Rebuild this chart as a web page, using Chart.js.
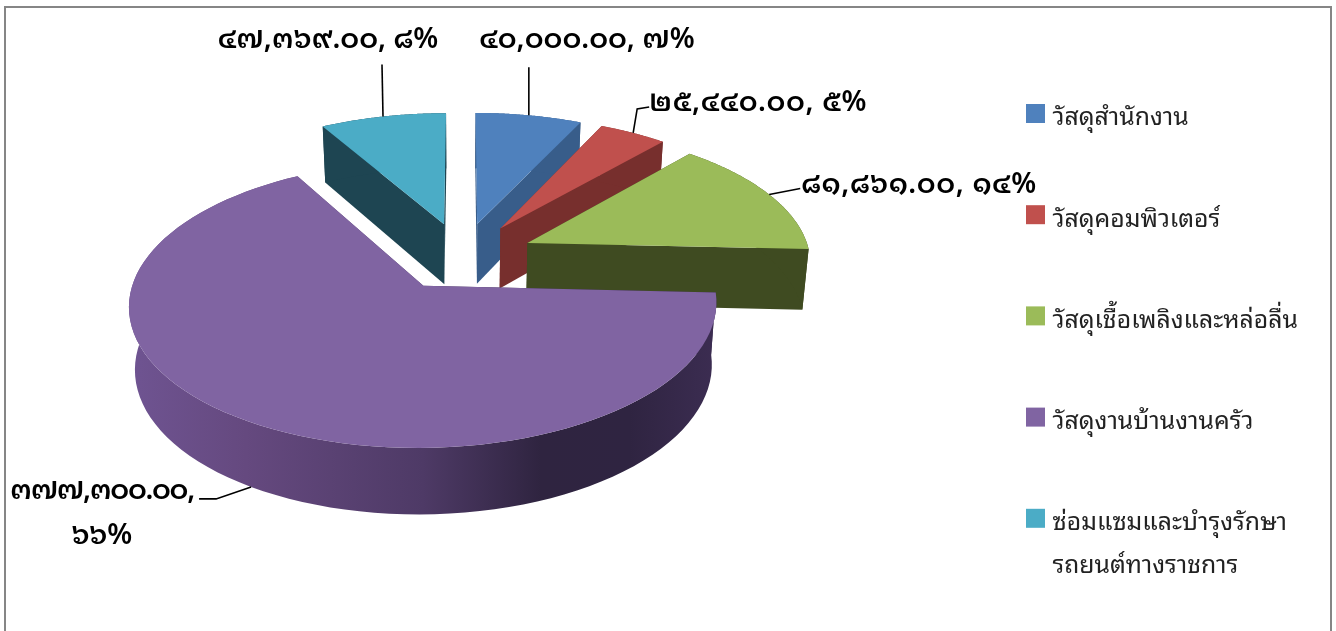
<!DOCTYPE html>
<html><head><meta charset="utf-8">
<script src="https://cdn.jsdelivr.net/npm/chart.js@4"></script>
<style>
html,body{margin:0;padding:0;background:#fff;overflow:hidden;width:1336px;height:631px}
#frame{position:absolute;left:4px;top:6px;width:1324px;height:700px;border:2px solid #868686}
canvas{position:absolute;left:0;top:0;display:block}
</style></head><body>
<div id="frame"></div>
<canvas id="c" width="1336" height="631"></canvas>
<script>
const categories = ['วัสดุสำนักงาน','วัสดุคอมพิวเตอร์','วัสดุเชื้อเพลิงและหล่อลื่น','วัสดุงานบ้านงานครัว',['ซ่อมแซมและบำรุงรักษา','รถยนต์ทางราชการ']];
const values = [40000, 25440, 81861, 377300, 47369];
const percents = [7, 5, 14, 66, 8];
const topColors = ['#4f81bd','#c0504d','#9bbb59','#8064a2','#4bacc6'];
const wallColors = ['#385d8a','#772f2d','#3f4b21',null,'#1e4552'];

const thaiDigits = s => String(s).replace(/\d/g, d => '๐๑๒๓๔๕๖๗๘๙'[+d]);
const money = v => thaiDigits(v.toLocaleString('en-US',{minimumFractionDigits:2,maximumFractionDigits:2}));

const VIEW = {cx:462, cy:256, k:0.47, D:2200, wall:61, taper:0.982};
const THAI_FONT = '"Noto Sans Thai Looped","Noto Sans","Liberation Sans",sans-serif';

function project(px, py, lowered){
  const p = VIEW.D/(VIEW.D - py);
  let X = VIEW.cx + px*p, Y = VIEW.cy + VIEW.k*py*p;
  if(lowered){ X = VIEW.cx + (X-VIEW.cx)*VIEW.taper; Y += VIEW.wall + py*0.016; }
  return [X,Y];
}
function planePoint(el, angle, r){
  const mid = (el.startAngle+el.endAngle)/2;
  const off = el.options.offset;
  return [off*Math.cos(mid)+r*Math.cos(angle), off*Math.sin(mid)+r*Math.sin(angle)];
}
function tracePoly(ctx, pts){
  ctx.beginPath();
  pts.forEach((q,i)=> i?ctx.lineTo(q[0],q[1]):ctx.moveTo(q[0],q[1]));
  ctx.closePath();
}
function drawSlice(ctx, el, i){
  const r = el.outerRadius, n = 90;
  const arc = [];
  for(let s=0;s<=n;s++){
    const a = el.startAngle+(el.endAngle-el.startAngle)*s/n;
    arc.push(planePoint(el,a,r));
  }
  const apex = planePoint(el,0,0);
  const hi = q=>project(q[0],q[1],false), lo = q=>project(q[0],q[1],true);
  let wall = wallColors[i];
  if(!wall){
    const g = ctx.createLinearGradient(128,0,718,0);
    g.addColorStop(0,'#6f5492'); g.addColorStop(0.2,'#65497f');
    g.addColorStop(0.5,'#4e3a66'); g.addColorStop(0.7,'#2f2440'); g.addColorStop(0.85,'#2f2441'); g.addColorStop(1,'#3c2d52');
    wall = g;
  }
  ctx.fillStyle = wall;
  [arc[0],arc[n]].forEach(q=>{ tracePoly(ctx,[hi(apex),hi(q),lo(q),lo(apex)]); ctx.fill(); });
  tracePoly(ctx, arc.map(hi).concat(arc.slice().reverse().map(lo))); ctx.fill();
  ctx.fillStyle = el.options.backgroundColor;
  tracePoly(ctx,[hi(apex)].concat(arc.map(hi))); ctx.fill();
}
const leaders = [
  {via:[[0,-48]], label:[587,40], track:0},
  {via:[[4,-24],[16,-26]], label:[758,102.5], track:0.6},
  {via:[[31,-6]], label:[919,184.5], track:0.6},
  {via:[[-35,12],[-52,12]], label:[102,491], second:[102,536], tail:true, track:-1.3},
  {via:[[-1,-52]], label:[328,40], track:0}
];
const LEGEND = {boxX:1026, boxSize:19, textX:1052.5, firstY:113.5, step:101.2, textDrop:5, lineH:43};
const pie3d = {
  id:'pie3d',
  beforeDatasetsDraw(chart){
    const ctx = chart.ctx, els = chart.getDatasetMeta(0).data;
    ctx.save();
    [4,0,1,2,3].forEach(i=>drawSlice(ctx,els[i],i));
    els.forEach((el,i)=>{
      const mid=(el.startAngle+el.endAngle)/2;
      const q=planePoint(el,mid,el.outerRadius);
      const s=project(q[0],q[1],leaders[i].tail);
      ctx.strokeStyle='#000'; ctx.lineWidth=1.6; ctx.beginPath(); ctx.moveTo(s[0],s[1]);
      leaders[i].via.forEach(v=>ctx.lineTo(s[0]+v[0],s[1]+v[1])); ctx.stroke();
      ctx.fillStyle='#000'; ctx.font='600 28.5px '+THAI_FONT; ctx.textAlign='center'; ctx.textBaseline='middle';
      const L=leaders[i];
      ctx.letterSpacing=L.track+'px';
      if(L.second){
        ctx.fillText(money(values[i])+',',L.label[0],L.label[1]);
        ctx.letterSpacing='0px';
        ctx.fillText(thaiDigits(percents[i])+'%',L.second[0],L.second[1]);
      } else {
        ctx.fillText(money(values[i])+', '+thaiDigits(percents[i])+'%',L.label[0],L.label[1]);
      }
      ctx.letterSpacing='0px';
    });
    chart.data.labels.forEach((lab,i)=>{
      const y=LEGEND.firstY+i*LEGEND.step;
      ctx.fillStyle=topColors[i];
      ctx.fillRect(LEGEND.boxX,y-LEGEND.boxSize/2,LEGEND.boxSize,LEGEND.boxSize);
      ctx.fillStyle='#222'; ctx.font='400 24.8px '+THAI_FONT; ctx.textAlign='left'; ctx.textBaseline='middle';
      [].concat(lab).forEach((t,j)=>ctx.fillText(t,LEGEND.textX,y+LEGEND.textDrop+j*LEGEND.lineH));
    });
    ctx.restore();
    return false;
  }
};
new Chart(document.getElementById('c'),{
  type:'pie',
  data:{labels:categories,datasets:[{data:values,backgroundColor:topColors,borderWidth:0,offset:72}]},
  options:{
    responsive:false,animation:false,radius:283,
    layout:{padding:{top:84}},
    plugins:{tooltip:{enabled:false},legend:{display:false}}
  },
  plugins:[pie3d]
});
</script>
</body></html>
